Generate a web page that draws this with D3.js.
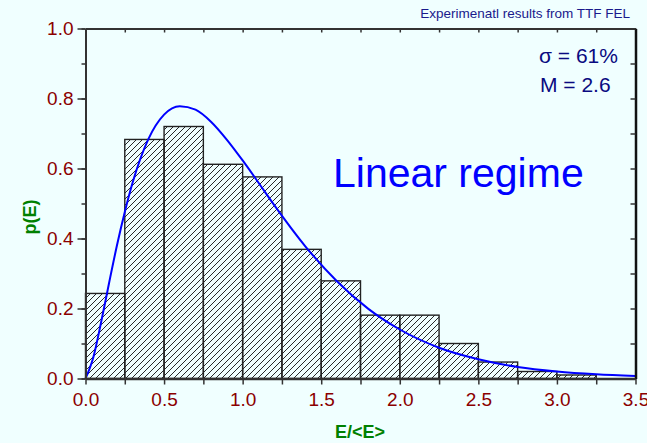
<!DOCTYPE html>
<html><head><meta charset="utf-8">
<script src="https://cdn.jsdelivr.net/npm/d3@7"></script>
<style>
html,body{margin:0;padding:0;background:#f0ffff;}
svg{display:block;font-family:"Liberation Sans",Arial,sans-serif;}
</style></head>
<body>
<script>
// Histogram bins (left edge, width 0.25) and heights
const binStarts = [0, 0.25, 0.5, 0.75, 1.0, 1.25, 1.5, 1.75, 2.0, 2.25, 2.5, 2.75, 3.0];
const binHeights = [0.243, 0.683, 0.72, 0.612, 0.576, 0.369, 0.279, 0.181, 0.181, 0.10, 0.047, 0.02, 0.01];
const binWidth = 0.25;
// Theoretical curve
const curveX = [0, 0.05, 0.1, 0.15, 0.2, 0.25, 0.3, 0.4, 0.5, 0.6, 0.7, 0.8, 0.9, 1.0, 1.1, 1.2, 1.4, 1.6, 1.8, 2.0, 2.25, 2.5, 2.75, 3.0, 3.25, 3.5];
const curveY = [0, 0.061, 0.162, 0.273, 0.380, 0.476, 0.560, 0.684, 0.754, 0.778, 0.768, 0.733, 0.682, 0.623, 0.560, 0.496, 0.377, 0.278, 0.199, 0.140, 0.088, 0.055, 0.033, 0.020, 0.012, 0.007];
const xMajorTicks = [0, 0.5, 1.0, 1.5, 2.0, 2.5, 3.0, 3.5];
const yMajorTicks = [0, 0.2, 0.4, 0.6, 0.8, 1.0];

const W = 647, H = 443;
const svg = d3.select("body").append("svg").attr("width", W).attr("height", H);
svg.append("rect").attr("width", W).attr("height", H).attr("fill", "#f0ffff");

const x = d3.scaleLinear().domain([0, 3.5]).range([85.5, 635.5]);
const y = d3.scaleLinear().domain([0, 1]).range([378.5, 28.5]);

const defs = svg.append("defs");
const pat = defs.append("pattern").attr("id", "hatch").attr("patternUnits", "userSpaceOnUse")
  .attr("width", 6).attr("height", 6);
pat.append("path").attr("d", "M-1,1 L1,-1 M0,6 L6,0 M5,7 L7,5")
  .attr("stroke", "#111").attr("stroke-width", 0.9);

// bars
svg.append("g").selectAll("rect").data(binStarts).join("rect")
  .attr("x", d => x(d))
  .attr("y", (d, i) => y(binHeights[i]))
  .attr("width", d => x(d + binWidth) - x(d))
  .attr("height", (d, i) => y(0) - y(binHeights[i]))
  .attr("fill", "url(#hatch)")
  .attr("stroke", "#222").attr("stroke-width", 1.4);

// curve
svg.append("path")
  .datum(curveX.map((d, i) => [d, curveY[i]]))
  .attr("d", d3.line().x(d => x(d[0])).y(d => y(d[1])).curve(d3.curveMonotoneX))
  .attr("fill", "none").attr("stroke", "#0000ff").attr("stroke-width", 2);

const xAll = d3.range(0, 15).map(i => i * 0.25);
const yAll = d3.range(0, 11).map(i => i * 0.1);
const fmt = d3.format(".1f");
const tickCol = "#333";

function styleAxis(g) {
  g.selectAll(".domain").attr("stroke", tickCol).attr("stroke-width", 2);
  g.selectAll(".tick line").attr("stroke", tickCol).attr("stroke-width", 1.5);
  g.selectAll(".tick text").attr("fill", "#8b0000").attr("font-size", 19)
    .attr("font-family", "Liberation Sans, Arial, sans-serif");
}

// bottom axis
const gb = svg.append("g").attr("transform", `translate(0,${y(0)})`)
  .call(d3.axisBottom(x).tickValues(xAll).tickSizeInner(6).tickSizeOuter(0)
    .tickPadding(8)
    .tickFormat(d => xMajorTicks.some(m => Math.abs(m - d) < 1e-9) ? fmt(d) : ""));
styleAxis(gb);
gb.select(".domain").attr("stroke-width", 2.5);

// top axis
const gt = svg.append("g").attr("transform", `translate(0,${y(1)})`)
  .call(d3.axisTop(x).tickValues(xAll).tickSizeInner(-4).tickSizeOuter(0).tickFormat(""));
styleAxis(gt);

// left axis minor
const glm = svg.append("g").attr("transform", `translate(${x(0)},0)`)
  .call(d3.axisLeft(y).tickValues(yAll).tickSizeInner(4).tickSizeOuter(0).tickFormat(""));
styleAxis(glm);
// left axis major
const gl = svg.append("g").attr("transform", `translate(${x(0)},0)`)
  .call(d3.axisLeft(y).tickValues(yMajorTicks).tickSizeInner(8).tickSizeOuter(0)
    .tickPadding(4).tickFormat(fmt));
styleAxis(gl);

// right axis
const gr = svg.append("g").attr("transform", `translate(${x(3.5)},0)`)
  .call(d3.axisRight(y).tickValues(yAll).tickSizeInner(-5).tickSizeOuter(0).tickFormat(""));
styleAxis(gr);
gr.select(".domain").attr("stroke", "#111").attr("stroke-width", 2.5);

// axis titles
svg.append("text").attr("x", 360).attr("y", 438).attr("text-anchor", "middle")
  .attr("fill", "#008000").attr("font-weight", "bold").attr("font-size", 18).text("E/<E>");
svg.append("text").attr("transform", "translate(36,217) rotate(-90)").attr("text-anchor", "middle")
  .attr("fill", "#008000").attr("font-weight", "bold").attr("font-size", 18).text("p(E)");

// annotations
svg.append("text").attr("x", 630).attr("y", 18).attr("text-anchor", "end")
  .attr("fill", "#1a1a8c").attr("font-size", 13.5).text("Experimenatl results from TTF FEL");
svg.append("text").attr("x", 539).attr("y", 63)
  .attr("fill", "#0a0a80").attr("font-size", 21).text("σ = 61%");
svg.append("text").attr("x", 540).attr("y", 92)
  .attr("fill", "#0a0a80").attr("font-size", 21).text("M = 2.6");
svg.append("text").attr("x", 333).attr("y", 187)
  .attr("fill", "#0000ff").attr("font-size", 41).text("Linear regime");
</script>
</body></html>
